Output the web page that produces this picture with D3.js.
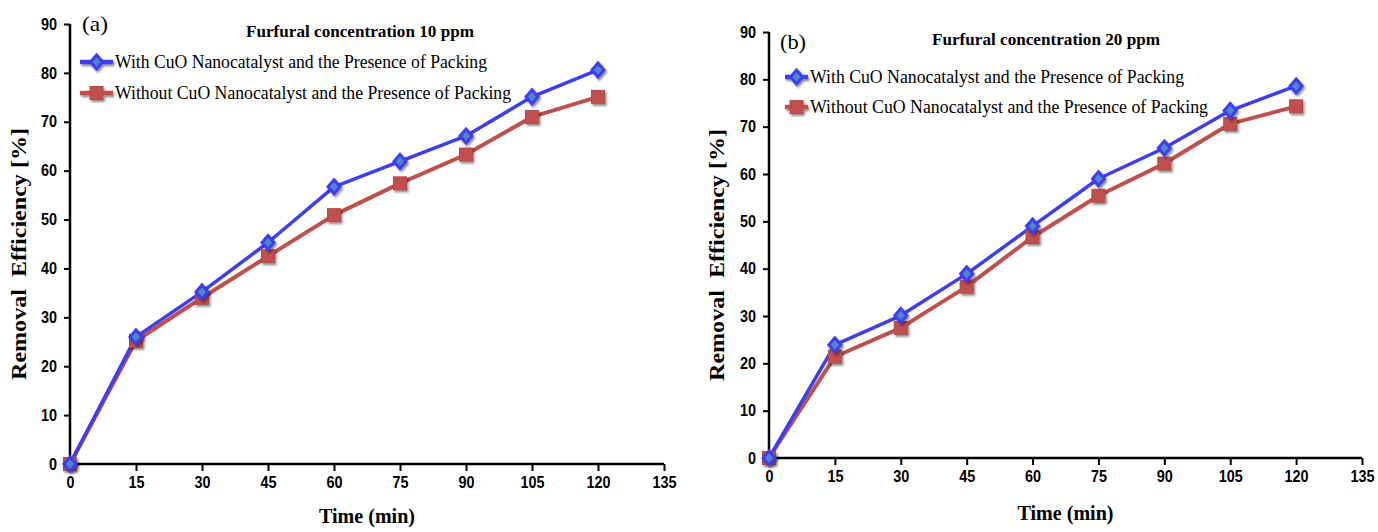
<!DOCTYPE html>
<html><head><meta charset="utf-8">
<script src="https://cdn.jsdelivr.net/npm/d3@7"></script>
<style>
body{margin:0;background:#fff;}
svg{display:block;}
.tick text{font-family:"Liberation Sans",Arial,sans-serif;font-size:16px;font-weight:bold;fill:#000;}
</style></head><body>
<svg id="c" width="1378" height="532"></svg>
<script>
const times = [0, 15, 30, 45, 60, 75, 90, 105, 120];
const xTicks = [0, 15, 30, 45, 60, 75, 90, 105, 120, 135];
const yTicks = [0, 10, 20, 30, 40, 50, 60, 70, 80, 90];
const seriesNames = ["With CuO Nanocatalyst and the Presence of Packing", "Without CuO Nanocatalyst and the Presence of Packing"];
const withCuO10 = [0, 26.0, 35.2, 45.3, 56.7, 61.9, 67.1, 75.1, 80.6];
const withoutCuO10 = [0, 25.2, 34.0, 42.5, 50.9, 57.4, 63.3, 71.0, 75.1];
const withCuO20 = [0, 23.9, 30.1, 38.9, 49.0, 59.0, 65.5, 73.4, 78.6];
const withoutCuO20 = [0, 21.4, 27.5, 36.2, 46.7, 55.4, 62.2, 70.6, 74.3];
const panelLabels = ["(a)", "(b)"];
const panelTitles = ["Furfural concentration 10 ppm", "Furfural concentration 20 ppm"];

const svg = d3.select("#c");
const defs = svg.append("defs");
const f = defs.append("filter").attr("id","sh").attr("x","-50%").attr("y","-50%").attr("width","200%").attr("height","200%");
f.append("feDropShadow").attr("dx",1.5).attr("dy",2).attr("stdDeviation",1.2).attr("flood-color","#000").attr("flood-opacity",0.45);

const BLUE = "#3d3df5", RED = "#c0504d";

const panels = [
  {x0:70, x1:664, y0:464, y1:24, data:[withCuO10, withoutCuO10], label:panelLabels[0], title:panelTitles[0],
   lab:[82,31], tit:[360,37], leg:{x:80, y:[62,93], tx:115, tw:[372,396]}, ytx:20, xty:523},
  {x0:769, x1:1362, y0:458, y1:32, data:[withCuO20, withoutCuO20], label:panelLabels[1], title:panelTitles[1],
   lab:[780,49], tit:[1046,45], leg:{x:785, y:[77,107], tx:810, tw:[374,398]}, ytx:718, xty:520}
];

function diamond(g, cx, cy){
  g.append("path").attr("d",`M${cx},${cy-7}L${cx+6},${cy}L${cx},${cy+7}L${cx-6},${cy}Z`)
    .attr("fill","#4f86c6").attr("stroke",BLUE).attr("stroke-width",3).attr("stroke-linejoin","miter");
}
function square(g, cx, cy){
  g.append("rect").attr("x",cx-6.5).attr("y",cy-6.5).attr("width",13).attr("height",13)
    .attr("fill",RED).attr("stroke","#b54a47").attr("stroke-width",1);
}
function fitTicks(sel){
  sel.selectAll(".tick text").each(function(){
    const n = this.textContent.length;
    d3.select(this).attr("textLength", 8*n).attr("lengthAdjust","spacingAndGlyphs");
  });
}

panels.forEach(p => {
  const x = d3.scaleLinear().domain([0,135]).range([p.x0,p.x1]);
  const y = d3.scaleLinear().domain([0,90]).range([p.y0,p.y1]);
  const g = svg.append("g");

  const xa = g.append("g").attr("transform",`translate(0,${p.y0})`)
    .call(d3.axisBottom(x).tickValues(xTicks).tickSize(7).tickPadding(6).tickFormat(d3.format("d")));
  xa.select(".domain").attr("stroke","#000").attr("stroke-width",2.5).attr("d",`M${p.x0},0H${p.x1}`);
  xa.selectAll(".tick line").attr("stroke","#000").attr("stroke-width",2);
  fitTicks(xa);

  const ya = g.append("g").attr("transform",`translate(${p.x0},0)`)
    .call(d3.axisLeft(y).tickValues(yTicks).tickSize(6).tickPadding(7).tickFormat(d3.format("d")));
  ya.select(".domain").attr("stroke","#000").attr("stroke-width",2.5).attr("d",`M0,${p.y0}V${p.y1}`);
  ya.selectAll(".tick line").attr("stroke","#000").attr("stroke-width",2);
  fitTicks(ya);

  const line = d3.line().x((d,i)=>x(times[i])).y(d=>y(d));
  const cols = [BLUE, RED];
  [1,0].forEach(k => {
    g.append("path").datum(p.data[k]).attr("d",line).attr("fill","none")
      .attr("stroke",cols[k]).attr("stroke-width",k===0?3.5:4).attr("stroke-linejoin","round");
  });
  [1,0].forEach(k => {
    const mg = g.append("g").attr("filter","url(#sh)");
    p.data[k].forEach((v,i) => k===0 ? diamond(mg, x(times[i]), y(v)) : square(mg, x(times[i]), y(v)));
  });

  [0,1].forEach(k => {
    const ly = p.leg.y[k];
    const lg = g.append("g").attr("filter","url(#sh)");
    lg.append("line").attr("x1",p.leg.x).attr("x2",p.leg.tx-2).attr("y1",ly).attr("y2",ly)
      .attr("stroke",cols[k]).attr("stroke-width",4.5);
    const mx = (p.leg.x + p.leg.tx-2)/2;
    k===0 ? diamond(lg, mx, ly) : square(lg, mx, ly);
    g.append("text").attr("x",p.leg.tx).attr("y",ly+6).text(seriesNames[k])
      .attr("font-family","'Liberation Serif','Times New Roman',serif").attr("font-size",19)
      .attr("textLength",p.leg.tw[k]).attr("lengthAdjust","spacingAndGlyphs");
  });

  g.append("text").attr("x",p.lab[0]).attr("y",p.lab[1]).text(p.label)
    .attr("font-family","'Liberation Serif',serif").attr("font-size",22)
    .attr("textLength",26).attr("lengthAdjust","spacingAndGlyphs");
  g.append("text").attr("x",p.tit[0]).attr("y",p.tit[1]).text(p.title).attr("text-anchor","middle")
    .attr("font-family","'Liberation Serif',serif").attr("font-size",17).attr("font-weight","bold")
    .attr("textLength",228).attr("lengthAdjust","spacingAndGlyphs");
  g.append("text").attr("transform",`translate(${p.ytx+6},${(p.y0+p.y1)/2 + 10}) rotate(-90)`)
    .attr("text-anchor","middle").text("Removal\u00a0 Efficiency [%]")
    .attr("font-family","'Liberation Serif',serif").attr("font-size",20).attr("font-weight","bold")
    .attr("textLength",252).attr("lengthAdjust","spacingAndGlyphs");
  g.append("text").attr("x",(p.x0+p.x1)/2).attr("y",p.xty).attr("text-anchor","middle").text("Time (min)")
    .attr("font-family","'Liberation Serif',serif").attr("font-size",21).attr("font-weight","bold")
    .attr("textLength",96).attr("lengthAdjust","spacingAndGlyphs");
});
</script></body></html>
